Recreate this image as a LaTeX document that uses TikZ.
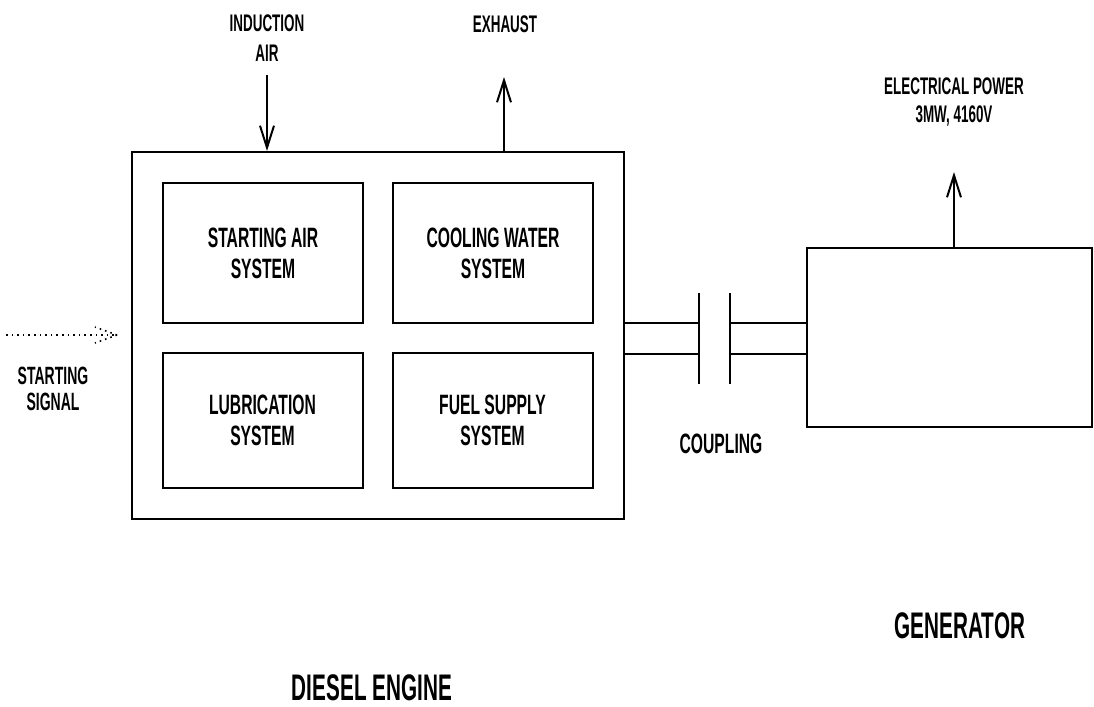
\documentclass[tikz,border=0pt]{standalone}
\usepackage{fontspec}
\newfontfamily\lbl[FakeStretch=0.56]{Liberation Sans Bold}
\usetikzlibrary{arrows.meta}
\begin{document}
\begin{tikzpicture}[x=0.5pt,y=-0.5pt,
  line width=1pt,
  box/.style={draw,line width=1pt,inner sep=0pt},
  sysbox/.style={box,minimum width=100pt,align=center,font=\lbl\fontsize{14}{15.5}\selectfont},
  toplbl/.style={inner sep=0pt,align=center,font=\lbl\fontsize{12}{15}\selectfont},
  biglbl/.style={inner sep=0pt,font=\lbl\fontsize{18.5}{20}\selectfont},
  flow/.style={-{Straight Barb[length=11pt,width=7pt,line width=1pt]}},
  shaft/.style={line width=1pt}]
\useasboundingbox (0,0) rectangle (1094,707);
% diesel engine
\node[box,minimum width=246pt,minimum height=183.5pt] (eng) at (378,335.5) {};
\node[sysbox,minimum height=70pt] (sas) at (263,253) {STARTING AIR\\SYSTEM};
\node[sysbox,minimum height=70pt] (cws) at (493,253) {COOLING WATER\\SYSTEM};
\node[sysbox,minimum height=67.5pt] (lub) at (262.5,420.5) {LUBRICATION\\SYSTEM};
\node[sysbox,minimum height=67.5pt] (fss) at (492.5,420.5) {FUEL SUPPLY\\SYSTEM};
% generator
\node[box,minimum width=142.5pt,minimum height=89.5pt] (gen) at (949.5,337.5) {};
% labels
\node[toplbl] (ind) at (267,38) {INDUCTION\\AIR};
\node[toplbl] (exh) at (505,24) {EXHAUST};
\node[toplbl,font=\lbl\fontsize{12}{14}\selectfont] (pow) at (954,102) {ELECTRICAL POWER\\3MW, 4160V};
\node[toplbl,font=\lbl\fontsize{12.5}{13}\selectfont] (sig) at (53,389) {STARTING\\SIGNAL};
\node[toplbl,font=\lbl\fontsize{14}{15}\selectfont] (cpl) at (721,444) {COUPLING};
\node[biglbl] (genl) at (960,626) {GENERATOR};
\node[biglbl] (engl) at (372,688) {DIESEL ENGINE};
% arrows
\coordinate (indtop) at (267,75);
\coordinate (exhtop) at (504,77);
\coordinate (powtop) at (954,172);
\draw[flow] (indtop) -- (indtop |- eng.north);
\draw[flow] (exhtop |- eng.north) -- (exhtop);
\draw[flow] (powtop |- gen.north) -- (powtop);
% starting signal (dotted)
\coordinate (sigs) at (6,335);
\coordinate (sigt) at (117,335);
\draw[dotted,line width=0.8pt] (sigs) -- (sigt);
\draw[dotted,line width=0.8pt] (sigt) -- ++(-22,-8);
\draw[dotted,line width=0.8pt] (sigt) -- ++(-22,8);
% coupling
\coordinate (fl1t) at (699,293);
\coordinate (fl1b) at (699,384);
\coordinate (fl2t) at (730,293);
\coordinate (fl2b) at (730,384);
\draw (fl1t) -- (fl1b);
\draw (fl2t) -- (fl2b);
\draw[shaft] (eng.east |- 0,323) -- (fl1t |- 0,323);
\draw[shaft] (eng.east |- 0,354) -- (fl1t |- 0,354);
\draw[shaft] (fl2t |- 0,323) -- (gen.west |- 0,323);
\draw[shaft] (fl2t |- 0,354) -- (gen.west |- 0,354);
\end{tikzpicture}
\end{document}
